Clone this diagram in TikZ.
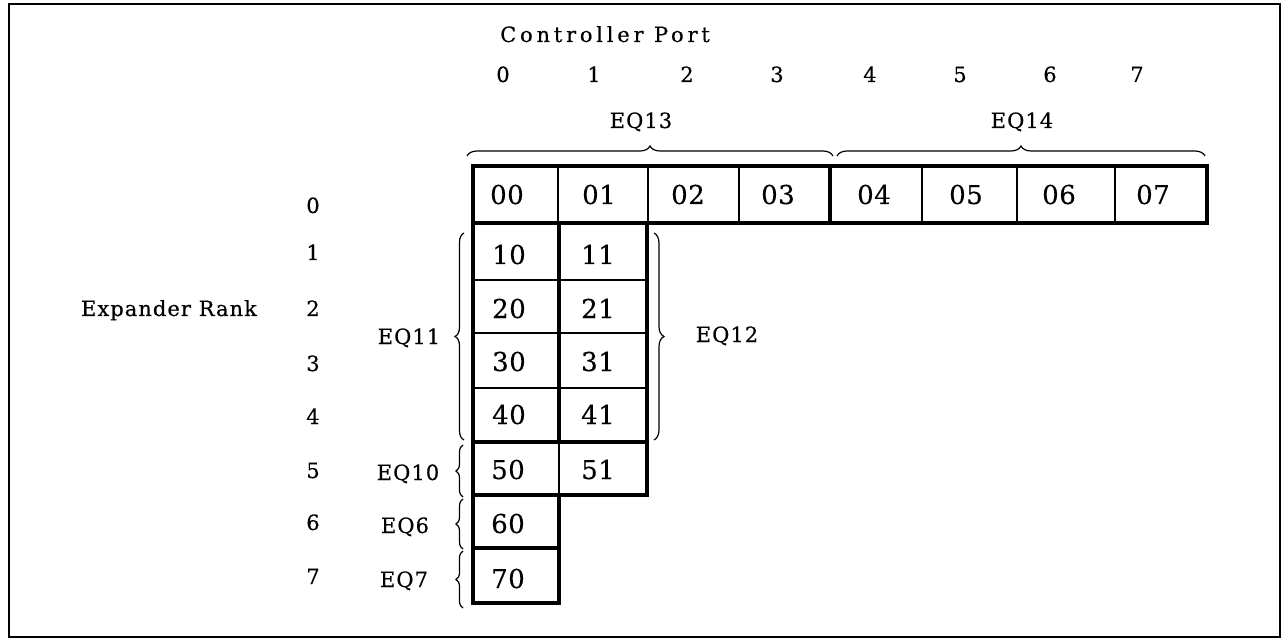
\documentclass[tikz,border=0pt]{standalone}
\usepackage{fontspec}
\setmainfont{DejaVu Serif}
\newfontfamily\lblfont[LetterSpace=5,FakeBold=0.4]{DejaVu Serif}
\newfontfamily\widefont[LetterSpace=18,FakeBold=0.4]{DejaVu Serif}
\newfontfamily\cellfont[LetterSpace=2,FakeBold=0.3]{DejaVu Serif}
\usetikzlibrary{decorations.pathreplacing}
\tikzset{
  cell/.style={draw, line width=1.3pt, inner sep=0pt, outer sep=0pt},
  heavy/.style={line width=3.6pt, line join=miter},
  medium/.style={line width=2.2pt},
  lbl/.style={anchor=base, inner sep=0pt, font=\lblfont\fontsize{21}{24}\selectfont},
  widelbl/.style={anchor=base, inner sep=0pt, font=\widefont\fontsize{21}{24}\selectfont},
  ctxt/.style={anchor=base, inner sep=0pt, font=\cellfont\fontsize{26}{30}\selectfont},
  brace/.style={decorate, decoration={brace, amplitude=#1}, line width=1.2pt},
  brace/.default=9pt
}
\newcommand{\mkcell}[5]{\node[cell, minimum width={#4-#2}, minimum height={#5-#3}] (#1) at ({(#2+#4)/2},{(#3+#5)/2}) {};}
\begin{document}
\begin{tikzpicture}[x=1pt,y=-1pt]
\useasboundingbox (0,0) rectangle (1282,644);
\draw[line width=2pt] (9,4) rectangle (1280,637);

% row 0 cells
\mkcell{c00}{473}{166}{558}{223}
\mkcell{c01}{558}{166}{648}{223}
\mkcell{c02}{648}{166}{739}{223}
\mkcell{c03}{739}{166}{830}{223}
\mkcell{c04}{830}{166}{922}{223}
\mkcell{c05}{922}{166}{1017}{223}
\mkcell{c06}{1017}{166}{1115}{223}
\mkcell{c07}{1115}{166}{1207}{223}
% rows 1-7
\mkcell{c10}{473}{223}{559}{280}
\mkcell{c11}{559}{223}{647}{280}
\mkcell{c20}{473}{280}{559}{333}
\mkcell{c21}{559}{280}{647}{333}
\mkcell{c30}{473}{333}{559}{388}
\mkcell{c31}{559}{333}{647}{388}
\mkcell{c40}{473}{388}{559}{442}
\mkcell{c41}{559}{388}{647}{442}
\mkcell{c50}{473}{442}{559}{495}
\mkcell{c51}{559}{442}{647}{495}
\mkcell{c60}{473}{495}{559}{548}
\mkcell{c70}{473}{548}{559}{603}

% heavy outlines
\draw[heavy] (c00.north west) rectangle (c07.south east);
\draw[heavy] (c03.north east) -- (c03.south east);
\draw[medium] (c01.north east) -- (c01.south east);
\draw[heavy] (c10.north west) rectangle (c41.south east);
\draw[heavy] (c10.north east) -- (c40.south east);
\draw[heavy] (c50.north west) rectangle (c51.south east);
\draw[heavy] (c60.north west) rectangle (c60.south east);
\draw[heavy] (c70.north west) rectangle (c70.south east);

% cell texts
\node[ctxt] (t00) at (507,204) {00};
\node[ctxt] (t01) at (599,204) {01};
\node[ctxt] (t02) at (688,204) {02};
\node[ctxt] (t03) at (778,204) {03};
\node[ctxt] (t04) at (874,204) {04};
\node[ctxt] (t05) at (966,204) {05};
\node[ctxt] (t06) at (1059,204) {06};
\node[ctxt] (t07) at (1153,204) {07};
\node[ctxt] (t10) at (509,264) {10};
\node[ctxt] (t11) at (598,264) {11};
\node[ctxt] (t20) at (509,318) {20};
\node[ctxt] (t21) at (598,318) {21};
\node[ctxt] (t30) at (509,371) {30};
\node[ctxt] (t31) at (598,371) {31};
\node[ctxt] (t40) at (509,424) {40};
\node[ctxt] (t41) at (598,424) {41};
\node[ctxt] (t50) at (508,479) {50};
\node[ctxt] (t51) at (598,479) {51};
\node[ctxt] (t60) at (508,533) {60};
\node[ctxt] (t70) at (508,588) {70};

% header
\node[widelbl] (cp) at (605,42) {Controller Port};
\node[lbl] (p0) at (503,82) {0};
\node[lbl] (p1) at (594,82) {1};
\node[lbl] (p2) at (687,82) {2};
\node[lbl] (p3) at (777,82) {3};
\node[lbl] (p4) at (870,82) {4};
\node[lbl] (p5) at (960,82) {5};
\node[lbl] (p6) at (1050,82) {6};
\node[lbl] (p7) at (1137,82) {7};
\node[lbl] (eq13) at (641,128) {EQ13};
\node[lbl] (eq14) at (1022,128) {EQ14};
\draw[brace=10pt] (467,156) -- (833,156);
\draw[brace=10pt] (837,156) -- (1205,156);

% rows
\node[lbl] (r0) at (313,213) {0};
\node[lbl] (r1) at (313,260) {1};
\node[lbl] (r2) at (313,316) {2};
\node[lbl] (r3) at (313,371) {3};
\node[lbl] (r4) at (313,424) {4};
\node[lbl] (r5) at (313,478) {5};
\node[lbl] (r6) at (313,530) {6};
\node[lbl] (r7) at (313,584) {7};
\node[lbl] (er) at (169,316) {Expander Rank};

% side braces
\draw[brace=9pt] (464,440) -- (464,233);
\node[lbl] (eq11) at (409,344) {EQ11};
\draw[brace=10pt] (654,233) -- (654,440);
\node[lbl] (eq12) at (727,342) {EQ12};
\draw[brace=7pt] (463,497) -- (463,445);
\node[lbl] (eq10) at (408,480) {EQ10};
\draw[brace=7pt] (463,549) -- (463,499);
\node[lbl] (eq6) at (405,533) {EQ6};
\draw[brace=7pt] (463,608) -- (463,551);
\node[lbl] (eq7) at (404,587) {EQ7};
\end{tikzpicture}
\end{document}
